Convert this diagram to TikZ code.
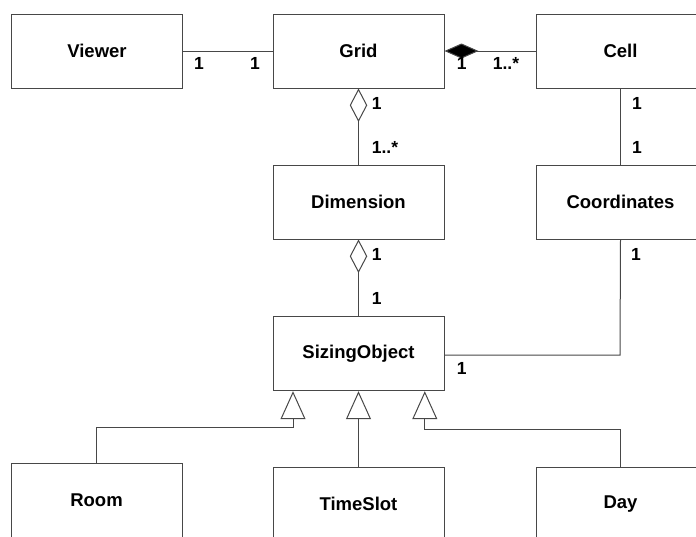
\documentclass[tikz,border=0pt]{standalone}
\usepackage{fontspec}
\setmainfont{Liberation Sans}
\usetikzlibrary{arrows.meta}
\begin{document}
\begin{tikzpicture}[x=1pt,y=-1pt,
  cls/.style={draw=black!72,line width=1pt,fill=white,minimum width=171pt,minimum height=74pt,inner sep=0pt,font=\fontsize{18.5}{20}\selectfont\bfseries},
  conn/.style={draw=black!72,line width=1pt},
  mult/.style={font=\fontsize{17.5}{19}\selectfont\bfseries,inner sep=0pt},
  comp/.style={conn,{Diamond[length=34pt 0,width=15pt 0,fill=black,line width=1pt]}-},
  aggr/.style={conn,{Diamond[open,length=33.5pt 0,width=17.5pt 0,line width=1pt]}-},
  gen/.style={conn,-{Triangle[open,length=28pt 0,width=25pt 0,line width=1pt]}}
]
\useasboundingbox (0,0) rectangle (696,536);
\begin{scope}
\clip (0,0) rectangle (696,536);
\node[cls] (viewer) at (97,51) {Viewer};
\node[cls] (grid) at (358.5,51) {Grid};
\node[cls,minimum width=169pt] (cell) at (620.5,51) {Cell};
\node[cls] (dim) at (358.5,202) {Dimension};
\node[cls,minimum width=169pt] (coord) at (620.5,202) {Coordinates};
\node[cls] (sizing) at (358.5,353.7) {SizingObject};
\node[cls] (room) at (96.5,500.5) {Room};
\node[cls] (timeslot) at (358.5,504.3) {TimeSlot};
\node[cls,minimum width=169pt] (day) at (620.5,504.3) {Day};

\draw[conn] (viewer.east) -- (grid.west);
\draw[comp] (grid.east) -- (cell.west);
\draw[aggr] (grid.south) -- (dim.north);
\draw[conn] (cell.south) -- (coord.north);
\draw[aggr] (dim.south) -- (sizing.north);
\coordinate (sc) at (620,355);
\draw[conn] (sizing.east |- sc) -- (sc) -- (coord.south);

\coordinate (r1) at (293,427.3);
\coordinate (d1) at (424.8,429.3);
\draw[gen] (room.north) |- (r1) -- (sizing.south -| r1);
\draw[gen] (timeslot.north) -- (sizing.south);
\draw[gen] (day.north) |- (d1) -- (sizing.south -| d1);

\node[mult] (m1) at (199,63) {1};
\node[mult] (m2) at (255,63) {1};
\node[mult] (m3) at (461.7,63) {1};
\node[mult] (m4) at (506,63) {1..*};
\node[mult] (m5) at (376.7,103) {1};
\node[mult] (m6) at (385,147) {1..*};
\node[mult] (m7) at (637,103) {1};
\node[mult] (m8) at (637,147) {1};
\node[mult] (m9) at (376.7,254) {1};
\node[mult] (m10) at (376.7,298) {1};
\node[mult] (m11) at (636,254) {1};
\node[mult] (m12) at (461.7,368) {1};
\end{scope}
\end{tikzpicture}
\end{document}
